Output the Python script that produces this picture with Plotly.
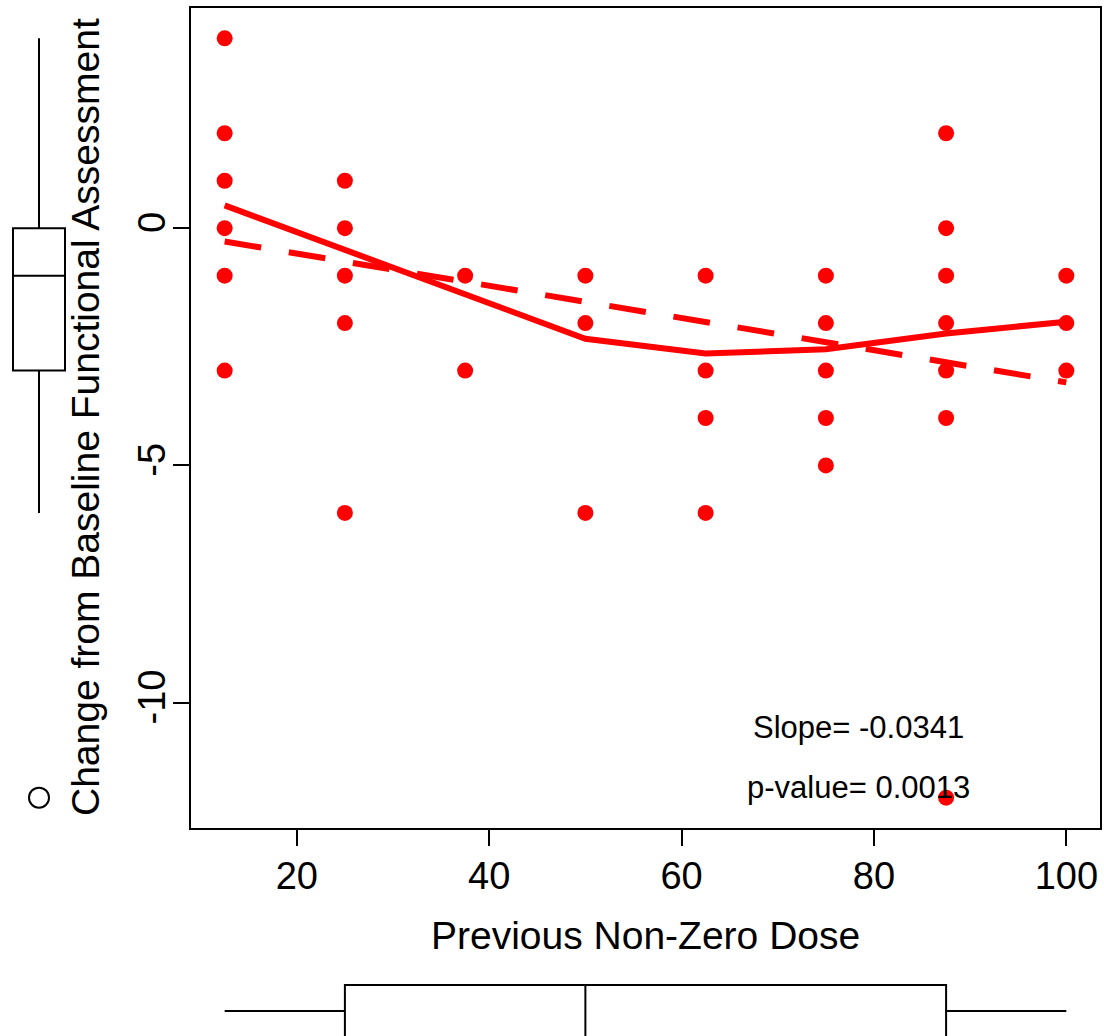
import plotly.graph_objects as go

W, H = 1104, 1036

# ---- data ----
dose = [12.5, 12.5, 12.5, 12.5, 12.5, 12.5,
        25, 25, 25, 25, 25,
        37.5, 37.5,
        50, 50, 50,
        62.5, 62.5, 62.5, 62.5,
        75, 75, 75, 75, 75,
        87.5, 87.5, 87.5, 87.5, 87.5, 87.5, 87.5,
        100, 100, 100]
change = [4, 2, 1, 0, -1, -3,
          1, 0, -1, -2, -6,
          -1, -3,
          -1, -2, -6,
          -1, -3, -4, -6,
          -1, -2, -3, -4, -5,
          2, 0, -1, -2, -3, -4, -12,
          -1, -2, -3]

smooth_x = [12.5, 25, 37.5, 50, 62.5, 75, 87.5, 100]
smooth_y = [0.48, -0.45, -1.39, -2.33, -2.64, -2.55, -2.22, -1.97]

fit_x = [12.5, 100]
fit_y = [-0.28, -3.25]

# boxplot summary of change (left margin)
chg_lower = [-6]
chg_q1 = [-3]
chg_median = [-1]
chg_q3 = [0]
chg_upper = [4]
chg_outliers = [-12]

# boxplot summary of dose (bottom margin)
dose_lower = [12.5]
dose_q1 = [25]
dose_median = [50]
dose_q3 = [87.5]
dose_upper = [100]

x_ticks = [20, 40, 60, 80, 100]
x_tick_text = ["20", "40", "60", "80", "100"]
y_ticks = [0, -5, -10]
y_tick_text = ["0", "-5", "-10"]

slope_text = "Slope= -0.0341"
pval_text = "p-value= 0.0013"
x_title = "Previous Non-Zero Dose"
y_title = "Change from Baseline Functional Assessment"

RED = "#FF0000"
FONT = "Liberation Sans, Arial, sans-serif"

fig = go.Figure()

fig.add_trace(go.Scatter(x=dose, y=change, mode="markers",
                         marker=dict(color=RED, size=16),
                         xaxis="x", yaxis="y", hoverinfo="x+y"))
fig.add_trace(go.Scatter(x=smooth_x, y=smooth_y, mode="lines",
                         line=dict(color=RED, width=6),
                         xaxis="x", yaxis="y"))
fig.add_trace(go.Scatter(x=fit_x, y=fit_y, mode="lines",
                         line=dict(color=RED, width=6, dash="37px,28px"),
                         xaxis="x", yaxis="y"))

# left boxplot
fig.add_trace(go.Box(x=[39], q1=chg_q1, median=chg_median, q3=chg_q3,
                     lowerfence=chg_lower, upperfence=chg_upper,
                     orientation="v", width=52, whiskerwidth=0,
                     fillcolor="white", line=dict(color="black", width=2),
                     boxpoints=False, xaxis="x2", yaxis="y2"))
fig.add_trace(go.Scatter(x=[39] * len(chg_outliers), y=chg_outliers, mode="markers",
                         marker=dict(symbol="circle-open", size=20, color="black",
                                     line=dict(width=2, color="black")),
                         xaxis="x2", yaxis="y2", cliponaxis=False))

# bottom boxplot
fig.add_trace(go.Box(y=[25], q1=dose_q1, median=dose_median, q3=dose_q3,
                     lowerfence=dose_lower, upperfence=dose_upper,
                     orientation="h", width=52, whiskerwidth=0,
                     fillcolor="white", line=dict(color="black", width=2),
                     boxpoints=False, xaxis="x3", yaxis="y3"))

x_dom = [191 / W, 1100 / W]
y_dom = [1 - 828 / H, 1 - 8 / H]
x_rng = [9, 103.5]
y_rng = [-12.64, 4.64]

axis_common = dict(showgrid=False, zeroline=False, showline=True, linecolor="black",
                   linewidth=2, mirror=True, ticks="outside", tickwidth=2,
                   tickcolor="black", tickfont=dict(size=38, color="black", family=FONT))

fig.update_layout(
    width=W, height=H,
    margin=dict(l=0, r=0, t=0, b=0),
    paper_bgcolor="white", plot_bgcolor="white",
    showlegend=False,
    font=dict(family=FONT, color="black"),
    xaxis=dict(domain=x_dom, range=x_rng, tickvals=x_ticks, ticktext=x_tick_text,
               ticklen=16, ticklabelstandoff=-3, anchor="y", **axis_common),
    yaxis=dict(domain=y_dom, range=y_rng, tickvals=y_ticks, ticktext=y_tick_text,
               ticklen=16, tickangle=-90, ticklabelstandoff=-7, anchor="x",
               **axis_common),
    xaxis2=dict(domain=[0, 80 / W], range=[0, 80], visible=False, anchor="y2"),
    yaxis2=dict(domain=y_dom, range=y_rng, visible=False, anchor="x2"),
    xaxis3=dict(domain=x_dom, range=x_rng, visible=False, anchor="y3"),
    yaxis3=dict(domain=[0, 80 / H], range=[0, 80], visible=False, anchor="x3"),
    annotations=[
        dict(text=x_title, xref="paper", yref="paper", x=645.5 / W, y=1 - 935 / H,
             xanchor="center", yanchor="middle", showarrow=False,
             font=dict(size=39, color="black", family=FONT)),
        dict(text=y_title, xref="paper", yref="paper", x=85 / W, y=1 - 417 / H,
             xanchor="center", yanchor="middle", showarrow=False, textangle=-90,
             font=dict(size=39, color="black", family=FONT)),
        dict(text=slope_text, xref="paper", yref="paper", x=858 / W, y=1 - 727 / H,
             xanchor="center", yanchor="middle", showarrow=False,
             font=dict(size=31, color="black", family=FONT)),
        dict(text=pval_text, xref="paper", yref="paper", x=858 / W, y=1 - 787 / H,
             xanchor="center", yanchor="middle", showarrow=False,
             font=dict(size=31, color="black", family=FONT)),
    ],
)

fig.write_html("out.html")
